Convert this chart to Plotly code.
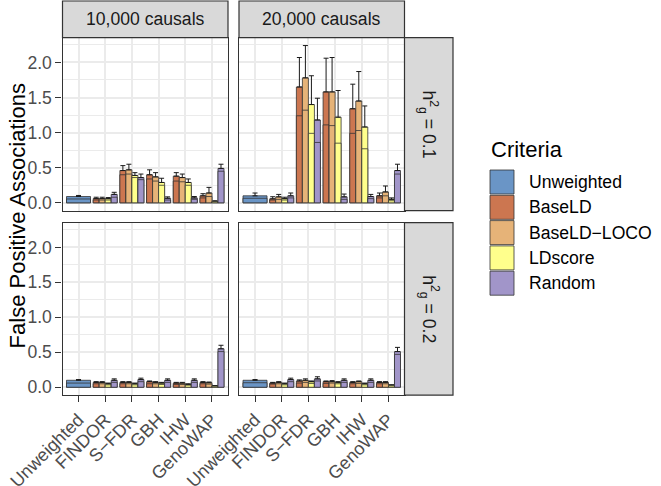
import plotly.graph_objects as go

W, H = 661, 486

methods = ["Unweighted", "FINDOR", "S-FDR", "GBH", "IHW", "GenoWAP"]
method_labels = ["Unweighted", "FINDOR", "S\u2212FDR", "GBH", "IHW", "GenoWAP"]
weighted_methods = ["FINDOR", "S-FDR", "GBH", "IHW", "GenoWAP"]
criteria = ["Unweighted", "BaseLD", "BaseLD-LOCO", "LDscore", "Random"]
legend_labels = ["Unweighted", "BaseLD", "BaseLD\u2212LOCO", "LDscore", "Random"]
colors = ["#6A95C6", "#CC7650", "#E6B378", "#FFFF8C", "#A195C9"]
causal_labels = ["10,000 causals", "20,000 causals"]
h2_labels = ["0.1", "0.2"]

# ---- panel h2 = 0.1, 10,000 causals ----
p11_high = {"Unweighted": [0.09],
            "BaseLD": [0.06, 0.46, 0.40, 0.38, 0.10],
            "BaseLD-LOCO": [0.06, 0.47, 0.37, 0.36, 0.14],
            "LDscore": [0.06, 0.39, 0.29, 0.29, 0.02],
            "Random": [0.12, 0.36, 0.065, 0.07, 0.49]}
p11_low = {"Unweighted": [0.055],
           "BaseLD": [0.04, 0.40, 0.34, 0.31, 0.07],
           "BaseLD-LOCO": [0.04, 0.41, 0.31, 0.30, 0.09],
           "LDscore": [0.04, 0.36, 0.25, 0.25, 0.015],
           "Random": [0.08, 0.33, 0.04, 0.05, 0.45]}
p11_err = {"Unweighted": [0.015],
           "BaseLD": [0.02, 0.07, 0.07, 0.05, 0.03],
           "BaseLD-LOCO": [0.02, 0.08, 0.06, 0.05, 0.08],
           "LDscore": [0.015, 0.04, 0.06, 0.05, 0.01],
           "Random": [0.03, 0.05, 0.02, 0.02, 0.06]}

# ---- panel h2 = 0.1, 20,000 causals ----
p12_high = {"Unweighted": [0.10],
            "BaseLD": [0.057, 1.65, 1.58, 1.34, 0.10],
            "BaseLD-LOCO": [0.085, 1.78, 1.58, 1.45, 0.155],
            "LDscore": [0.06, 1.40, 1.22, 1.08, 0.05],
            "Random": [0.10, 1.18, 0.085, 0.09, 0.46]}
p12_low = {"Unweighted": [0.065],
           "BaseLD": [0.04, 1.24, 1.11, 0.99, 0.07],
           "BaseLD-LOCO": [0.05, 1.32, 1.10, 1.03, 0.10],
           "LDscore": [0.04, 0.99, 0.85, 0.77, 0.03],
           "Random": [0.07, 0.86, 0.05, 0.06, 0.41]}
p12_err = {"Unweighted": [0.04],
           "BaseLD": [0.03, 0.42, 0.48, 0.35, 0.04],
           "BaseLD-LOCO": [0.035, 0.46, 0.49, 0.42, 0.085],
           "LDscore": [0.02, 0.41, 0.38, 0.30, 0.02],
           "Random": [0.04, 0.31, 0.04, 0.03, 0.09]}

# ---- panel h2 = 0.2, 10,000 causals ----
p21_high = {"Unweighted": [0.10],
            "BaseLD": [0.07, 0.07, 0.08, 0.06, 0.07],
            "BaseLD-LOCO": [0.07, 0.07, 0.07, 0.06, 0.065],
            "LDscore": [0.05, 0.05, 0.06, 0.04, 0.02],
            "Random": [0.10, 0.11, 0.10, 0.10, 0.55]}
p21_low = {"Unweighted": [0.06],
           "BaseLD": [0.05, 0.05, 0.05, 0.04, 0.05],
           "BaseLD-LOCO": [0.05, 0.05, 0.05, 0.04, 0.045],
           "LDscore": [0.035, 0.035, 0.04, 0.03, 0.015],
           "Random": [0.07, 0.08, 0.07, 0.07, 0.51]}
p21_err = {"Unweighted": [0.01],
           "BaseLD": [0.01, 0.01, 0.01, 0.01, 0.01],
           "BaseLD-LOCO": [0.01, 0.01, 0.01, 0.01, 0.01],
           "LDscore": [0.01, 0.01, 0.01, 0.01, 0.005],
           "Random": [0.02, 0.02, 0.02, 0.02, 0.05]}

# ---- panel h2 = 0.2, 20,000 causals ----
p22_high = {"Unweighted": [0.10],
            "BaseLD": [0.06, 0.09, 0.08, 0.07, 0.07],
            "BaseLD-LOCO": [0.07, 0.10, 0.08, 0.08, 0.07],
            "LDscore": [0.05, 0.08, 0.07, 0.05, 0.03],
            "Random": [0.11, 0.12, 0.10, 0.10, 0.51]}
p22_low = {"Unweighted": [0.065],
           "BaseLD": [0.045, 0.06, 0.055, 0.05, 0.05],
           "BaseLD-LOCO": [0.05, 0.07, 0.06, 0.055, 0.05],
           "LDscore": [0.035, 0.055, 0.05, 0.035, 0.02],
           "Random": [0.08, 0.09, 0.07, 0.07, 0.47]}
p22_err = {"Unweighted": [0.01],
           "BaseLD": [0.01, 0.015, 0.01, 0.01, 0.01],
           "BaseLD-LOCO": [0.01, 0.02, 0.015, 0.01, 0.01],
           "LDscore": [0.01, 0.01, 0.01, 0.01, 0.005],
           "Random": [0.02, 0.03, 0.02, 0.02, 0.06]}

panels = [
    ("x", "y", p11_high, p11_low, p11_err),
    ("x2", "y2", p12_high, p12_low, p12_err),
    ("x3", "y3", p21_high, p21_low, p21_err),
    ("x4", "y4", p22_high, p22_low, p22_err),
]

FONT = "Liberation Sans, Arial, Helvetica, sans-serif"
OUTLINE = "#333333"

fig = go.Figure()
for xa, ya, high, low, err in panels:
    for ci, crit in enumerate(criteria):
        if crit == "Unweighted":
            xs = ["Unweighted"]
            width, offset = 0.9, -0.45
        else:
            xs = weighted_methods
            width, offset = 0.225, -0.45 + (ci - 1) * 0.225
        fig.add_trace(go.Bar(
            x=xs, y=high[crit], xaxis=xa, yaxis=ya, width=width, offset=offset,
            marker=dict(color=colors[ci], line=dict(color=OUTLINE, width=0.8)),
            error_y=dict(type="data", symmetric=False, array=err[crit],
                         arrayminus=[0] * len(xs), color="#1A1A1A",
                         thickness=1, width=2.5),
            showlegend=False, hoverinfo="skip"))
        fig.add_trace(go.Bar(
            x=xs, y=low[crit], xaxis=xa, yaxis=ya, width=width, offset=offset,
            marker=dict(color=colors[ci], line=dict(color=OUTLINE, width=0.8)),
            showlegend=False, hoverinfo="skip"))


def px_x(v):
    return v / W


def px_y(v):
    return 1 - v / H


left_dom = [px_x(62.5), px_x(228)]
right_dom = [px_x(239), px_x(404.5)]
top_dom = [px_y(210.7), px_y(37.7)]
bot_dom = [px_y(395.1), px_y(222.7)]
YR = [-0.112, 2.352]

xbase = dict(type="category", categoryorder="array", categoryarray=methods,
             range=[-0.6, 5.6], showgrid=True, gridcolor="#EBEBEB", gridwidth=1.8,
             showline=True, mirror=True, linecolor=OUTLINE, linewidth=1.2,
             zeroline=False, automargin=False,
             tickmode="array", tickvals=methods, ticktext=method_labels)
xbottom = dict(xbase, ticks="outside", ticklen=6, tickwidth=1.3, tickcolor=OUTLINE,
               tickangle=-45, tickfont=dict(family=FONT, size=18, color="#4D4D4D"),
               showticklabels=True)
xtop = dict(xbase, ticks="", showticklabels=False)

ybase = dict(range=YR, tick0=0, dtick=0.5, tickformat=".1f", showgrid=True,
             gridcolor="#EBEBEB", gridwidth=1.8,
             minor=dict(dtick=0.25, showgrid=True, gridcolor="#EBEBEB", gridwidth=0.9),
             showline=True, mirror=True, linecolor=OUTLINE, linewidth=1.2,
             zeroline=False, automargin=False)
yleft = dict(ybase, ticks="outside", ticklen=6, tickwidth=1.3, tickcolor=OUTLINE,
             tickfont=dict(family=FONT, size=17.6, color="#4D4D4D"), showticklabels=True)
yright = dict(ybase, ticks="", showticklabels=False)

fig.update_layout(
    width=W, height=H, margin=dict(l=0, r=0, t=0, b=0, autoexpand=False),
    paper_bgcolor="white", plot_bgcolor="white", barmode="overlay",
    font=dict(family=FONT), showlegend=False,
    xaxis=dict(xtop, domain=left_dom, anchor="y"),
    yaxis=dict(yleft, domain=top_dom, anchor="x"),
    xaxis2=dict(xtop, domain=right_dom, anchor="y2"),
    yaxis2=dict(yright, domain=top_dom, anchor="x2"),
    xaxis3=dict(xbottom, domain=left_dom, anchor="y3"),
    yaxis3=dict(yleft, domain=bot_dom, anchor="x3"),
    xaxis4=dict(xbottom, domain=right_dom, anchor="y4"),
    yaxis4=dict(yright, domain=bot_dom, anchor="x4"),
)

shapes = []
annotations = []
STRIP_FILL = "#D9D9D9"
# top strips
for dom, lab in zip([left_dom, right_dom], causal_labels):
    shapes.append(dict(type="rect", xref="paper", yref="paper",
                       x0=dom[0], x1=dom[1], y0=top_dom[1], y1=px_y(1),
                       fillcolor=STRIP_FILL, line=dict(color=OUTLINE, width=1.2)))
    annotations.append(dict(xref="paper", yref="paper", x=(dom[0] + dom[1]) / 2,
                            y=(top_dom[1] + px_y(1)) / 2, text=lab, showarrow=False,
                            font=dict(family=FONT, size=17.6, color="#1A1A1A"),
                            xanchor="center", yanchor="middle"))
# right strips
for dom, lab in zip([top_dom, bot_dom], h2_labels):
    shapes.append(dict(type="rect", xref="paper", yref="paper",
                       x0=right_dom[1], x1=px_x(453), y0=dom[0], y1=dom[1],
                       fillcolor=STRIP_FILL, line=dict(color=OUTLINE, width=1.2)))
    annotations.append(dict(xref="paper", yref="paper",
                            x=(right_dom[1] + px_x(453)) / 2, y=(dom[0] + dom[1]) / 2,
                            text="h<sup>2</sup><sub>g</sub> = " + lab, textangle=90,
                            showarrow=False,
                            font=dict(family=FONT, size=17.6, color="#1A1A1A"),
                            xanchor="center", yanchor="middle"))
# y axis title
annotations.append(dict(xref="paper", yref="paper", x=px_x(17),
                        y=(top_dom[1] + bot_dom[0]) / 2,
                        text="False Positive Associations", textangle=-90,
                        showarrow=False, font=dict(family=FONT, size=22, color="black"),
                        xanchor="center", yanchor="middle"))
# legend
annotations.append(dict(xref="paper", yref="paper", x=px_x(489), y=px_y(149),
                        text="Criteria", showarrow=False,
                        font=dict(family=FONT, size=22, color="black"),
                        xanchor="left", yanchor="middle"))
for i, (lab, col) in enumerate(zip(legend_labels, colors)):
    yc = 182 + i * 25.3
    shapes.append(dict(type="rect", xref="paper", yref="paper",
                       x0=px_x(490), x1=px_x(514), y0=px_y(yc + 12), y1=px_y(yc - 12),
                       fillcolor=col, line=dict(color=OUTLINE, width=0.8)))
    annotations.append(dict(xref="paper", yref="paper", x=px_x(527), y=px_y(yc),
                            text=lab, showarrow=False,
                            font=dict(family=FONT, size=17.6, color="black"),
                            xanchor="left", yanchor="middle"))

fig.update_layout(shapes=shapes, annotations=annotations)
fig.write_html(
    "out.html",
    config={"displayModeBar": False},
    post_script="document.body.style.margin='0';document.body.style.padding='0';",
)
